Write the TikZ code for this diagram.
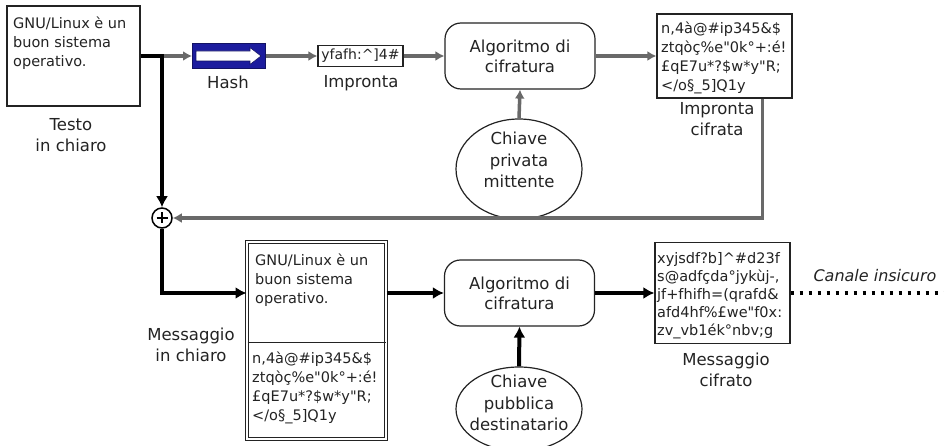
\documentclass[tikz,border=0pt]{standalone}
\usepackage{fontspec}
\setmainfont{DejaVu Sans}[Ligatures=TeXOff]
\usetikzlibrary{arrows.meta,shapes.geometric,calc}
\definecolor{greyln}{RGB}{105,105,105}
\definecolor{hblue}{RGB}{28,28,158}
\definecolor{hborder}{RGB}{18,18,100}
\definecolor{ink}{RGB}{35,35,35}
\begin{document}
\begin{tikzpicture}[x=1pt,y=-1pt,
  frame/.style={draw=ink,line width=1.2pt,inner sep=0pt,fill=white},
  boxtxt/.style={font=\fontsize{14.5}{19}\selectfont,align=left,inner sep=0pt,anchor=north west,text=ink},
  lbl/.style={font=\fontsize{16.5}{21}\selectfont,align=center,inner sep=0pt,anchor=north,text=ink},
  algo/.style={draw=ink,line width=1.2pt,rounded corners=16pt,minimum width=150pt,minimum height=66pt,font=\fontsize{16.5}{20}\selectfont,align=center,text=ink},
  keyell/.style={draw=ink,line width=1.2pt,ellipse,minimum width=126pt,inner sep=0pt,fill=white},
  garrow/.style={draw=greyln,line width=3.5pt,-{Latex[length=9pt,width=10pt]}},
  barrow/.style={draw=black,line width=4pt,-{Latex[length=11pt,width=12pt]}},
  dotln/.style={draw=black,line width=3.5pt,dash pattern=on 3.5pt off 5.5pt}
]
\useasboundingbox (0,0) rectangle (944,446);

% top row
\node[frame,minimum width=133pt,minimum height=100pt] (plain) at (73.5,56) {};
\node[boxtxt] (plaintxt) at (13,17) {GNU/Linux è un\\buon sistema\\operativo.};
\node[lbl] (testolbl) at (71,118) {Testo\\in chiaro};

\node[draw=hborder,fill=hblue,line width=1pt,minimum width=73pt,minimum height=25pt,inner sep=0pt] (hash) at (229,56) {};
\begin{scope}[shift={(hash.center)}]
  \filldraw[fill=white,draw=hborder,line width=0.6pt]
    (-33,-5) -- (21,-5) -- (21,-8.5) -- (32,0) -- (21,8.5) -- (21,5) -- (-33,5) -- cycle;
\end{scope}
\node[lbl] (hashlbl) at (228,76) {Hash};

\node[frame,minimum width=85pt,minimum height=21pt,font=\fontsize{14}{17}\selectfont,text=ink] (impr) at (360.5,56) {yfafh:\textasciicircum]4\#};
\node[lbl] (imprlbl) at (361,75) {Impronta};

\node[algo] (alg1) at (520,56) {Algoritmo di\\cifratura};
\node[keyell,minimum height=100pt] (priv) at (519,169) {};
\node[lbl,font=\fontsize{16.5}{21.5}\selectfont] (privtxt) at (519,132) {Chiave\\privata\\mittente};

\node[frame,minimum width=135pt,minimum height=84pt] (impc) at (724.5,56) {};
\node[boxtxt] (impctxt) at (661,22) {n,4à@\#ip345\&\$\\ztqòç\%e"0k°+:é!\\£qE7u*?\$w*y"R;\\</o§\_5]Q1y};
\node[lbl] (impclbl) at (717,102) {Impronta\\cifrata};

\node[circle,draw=black,line width=1.5pt,minimum size=20pt,inner sep=0pt,fill=white] (plus) at (162,218) {};
\draw[line width=1.8pt] ($(plus.center)+(-5.5,0)$) -- ($(plus.center)+(5.5,0)$);
\draw[line width=1.8pt] ($(plus.center)+(0,-5.5)$) -- ($(plus.center)+(0,5.5)$);

% bottom row
\node[draw=ink,double,double distance=2pt,line width=1pt,minimum width=139pt,minimum height=197pt,inner sep=0pt] (dbl) at (316.5,340.5) {};
\draw[draw=ink,line width=1pt] ($(dbl.north west)+(1,101)$) coordinate (divl) -- ($(dbl.north east)+(-1,101)$) coordinate (divr);
\node[boxtxt] (dbltop) at (255,254) {GNU/Linux è un\\buon sistema\\operativo.};
\node[boxtxt] (dblbot) at (252,352) {n,4à@\#ip345\&\$\\ztqòç\%e"0k°+:é!\\£qE7u*?\$w*y"R;\\</o§\_5]Q1y};
\node[lbl] (inlbl) at (191,328) {Messaggio\\in chiaro};

\node[algo] (alg2) at (519.5,293) {Algoritmo di\\cifratura};
\node[keyell,minimum height=84pt] (pub) at (519,409) {};
\node[lbl,font=\fontsize{16.5}{21.5}\selectfont] (pubtxt) at (519,375) {Chiave\\pubblica\\destinatario};

\node[frame,minimum width=135pt,minimum height=101pt] (msg) at (722.5,293) {};
\node[boxtxt,font=\fontsize{14.5}{18}\selectfont] (msgtxt) at (657,252) {xyjsdf?b]\textasciicircum\#d23f\\s@adfçda°jykùj-,\\jf+fhifh=(qrafd\&\\afd4hf\%£we"f0x:\\zv\_vb1ék°nbv;g};
\node[lbl] (ciflbl) at (726,353) {Messaggio\\cifrato};

\coordinate (chan) at (944,293);
\node[lbl,font=\fontsize{16}{20}\selectfont\itshape] (canale) at (875,269) {Canale insicuro};

% connectors
\draw[garrow] (plain.east -| plus.north) -- (hash.west);
\draw[barrow] (plain.east) -| (plus.north);
\draw[garrow] (hash.east) -- (impr.west);
\draw[garrow] (impr.east) -- (alg1.west);
\draw[garrow] (alg1.east) -- (impc.west);
\draw[garrow] (priv.north) -- (alg1.south);
\draw[garrow] ($(impc.south east)+(-30,0)$) |- (plus.east);
\draw[barrow] (plus.south) |- (dbl.west |- alg2.west);
\draw[barrow] (dbl.east |- alg2.west) -- (alg2.west);
\draw[barrow] (alg2.east) -- (msg.west);
\draw[barrow] (pub.north) -- (alg2.south);
\draw[dotln] (msg.east) -- (chan);
\end{tikzpicture}
\end{document}
